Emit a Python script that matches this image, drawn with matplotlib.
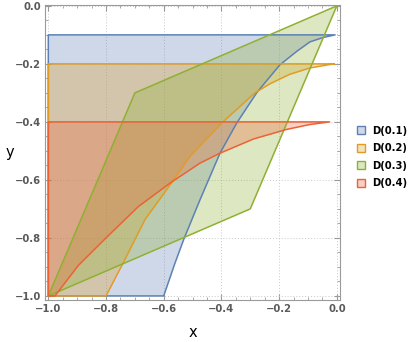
import matplotlib
matplotlib.use("Agg")
import matplotlib.pyplot as plt
from matplotlib.patches import Polygon, Patch
from matplotlib.ticker import MultipleLocator

# boundary curves (x, y)
blue_x = [-0.6, -0.561, -0.529, -0.474, -0.405, -0.347, -0.278, -0.255, -0.197, -0.139, -0.093, -0.047, -0.006]
blue_y = [-1.0, -0.887, -0.801, -0.668, -0.508, -0.404, -0.300, -0.272, -0.203, -0.157, -0.124, -0.109, -0.1]

orange_x = [-0.8, -0.744, -0.665, -0.578, -0.509, -0.399, -0.284, -0.232, -0.197, -0.163, -0.093, -0.035, -0.008]
orange_y = [-1.0, -0.893, -0.737, -0.617, -0.519, -0.404, -0.300, -0.269, -0.252, -0.236, -0.214, -0.204, -0.2]

green_x = [-1.0, -0.7, 0.0, -0.3]
green_y = [-1.0, -0.3, 0.0, -0.7]

red_x = [-0.977, -0.896, -0.798, -0.688, -0.578, -0.474, -0.405, -0.289, -0.174, -0.093, -0.025]
red_y = [-1.0, -0.895, -0.798, -0.692, -0.611, -0.542, -0.508, -0.459, -0.426, -0.409, -0.4]

labels = ["D(0.1)", "D(0.2)", "D(0.3)", "D(0.4)"]
colors = ["#5E81B5", "#E19C24", "#8FB032", "#EB6235"]
tops = [-0.1, -0.2, None, -0.4]

fig = plt.figure(figsize=(4.15, 3.42), dpi=100)
ax = fig.add_axes([45 / 415, 1 - 299.7 / 342, 295 / 415, 295 / 342])

curves = [(blue_x, blue_y), (orange_x, orange_y), (green_x, green_y), (red_x, red_y)]
for (cx, cy), top, col in zip(curves, tops, colors):
    if top is None:
        pts = list(zip(cx, cy))
    else:
        pts = [(-1.0, -1.0)] + list(zip(cx, cy)) + [(-1.0, top)]
    ax.add_patch(Polygon(pts, closed=True, facecolor=col, alpha=0.3, edgecolor="none", zorder=2))
    ax.add_patch(Polygon(pts, closed=True, facecolor="none", edgecolor=col, lw=1.1,
                         joinstyle="round", zorder=3))

ax.set_xlim(-1.0115, 0.011)
ax.set_ylim(-1.013, 0.004)

ax.xaxis.set_major_locator(MultipleLocator(0.2))
ax.yaxis.set_major_locator(MultipleLocator(0.2))
ax.xaxis.set_minor_locator(MultipleLocator(0.05))
ax.yaxis.set_minor_locator(MultipleLocator(0.05))
fmt = lambda v, p: f"{v:.1f}".replace("-", "\u2212") if abs(v) > 1e-9 else "0.0"
ax.xaxis.set_major_formatter(fmt)
ax.yaxis.set_major_formatter(fmt)

ax.tick_params(which="both", direction="in", top=True, right=True, color="#9a9a9a")
ax.tick_params(which="major", length=4, width=0.8, labelsize=7.2, labelcolor="#5a5a5a", pad=3)
ax.tick_params(which="minor", length=2, width=0.6)
for lab in ax.get_xticklabels() + ax.get_yticklabels():
    lab.set_fontweight("bold")
for s in ax.spines.values():
    s.set_color("#9a9a9a")
    s.set_linewidth(0.8)

ax.grid(True, which="major", ls=(0, (1, 2)), color="#c8c8c8", lw=0.7, zorder=0)
ax.set_axisbelow(True)

ax.set_xlabel("x", fontsize=10.5, labelpad=8)
ax.set_ylabel("y", fontsize=10.5, rotation=0, va="center", ha="center")
ax.yaxis.set_label_coords(-0.12, 0.5)

handles = [Patch(facecolor=matplotlib.colors.to_rgba(c, 0.3), edgecolor=c, lw=1.0) for c in colors]
fig.legend(handles, labels, loc="center left", bbox_to_anchor=(357 / 415, 1 - 157 / 342),
           frameon=False, handlelength=0.8, handleheight=0.8,
           handletextpad=0.7, labelspacing=0.75, borderpad=0, borderaxespad=0,
           prop={"weight": "bold", "size": 7.2})

fig.savefig("out.png", dpi=100)
